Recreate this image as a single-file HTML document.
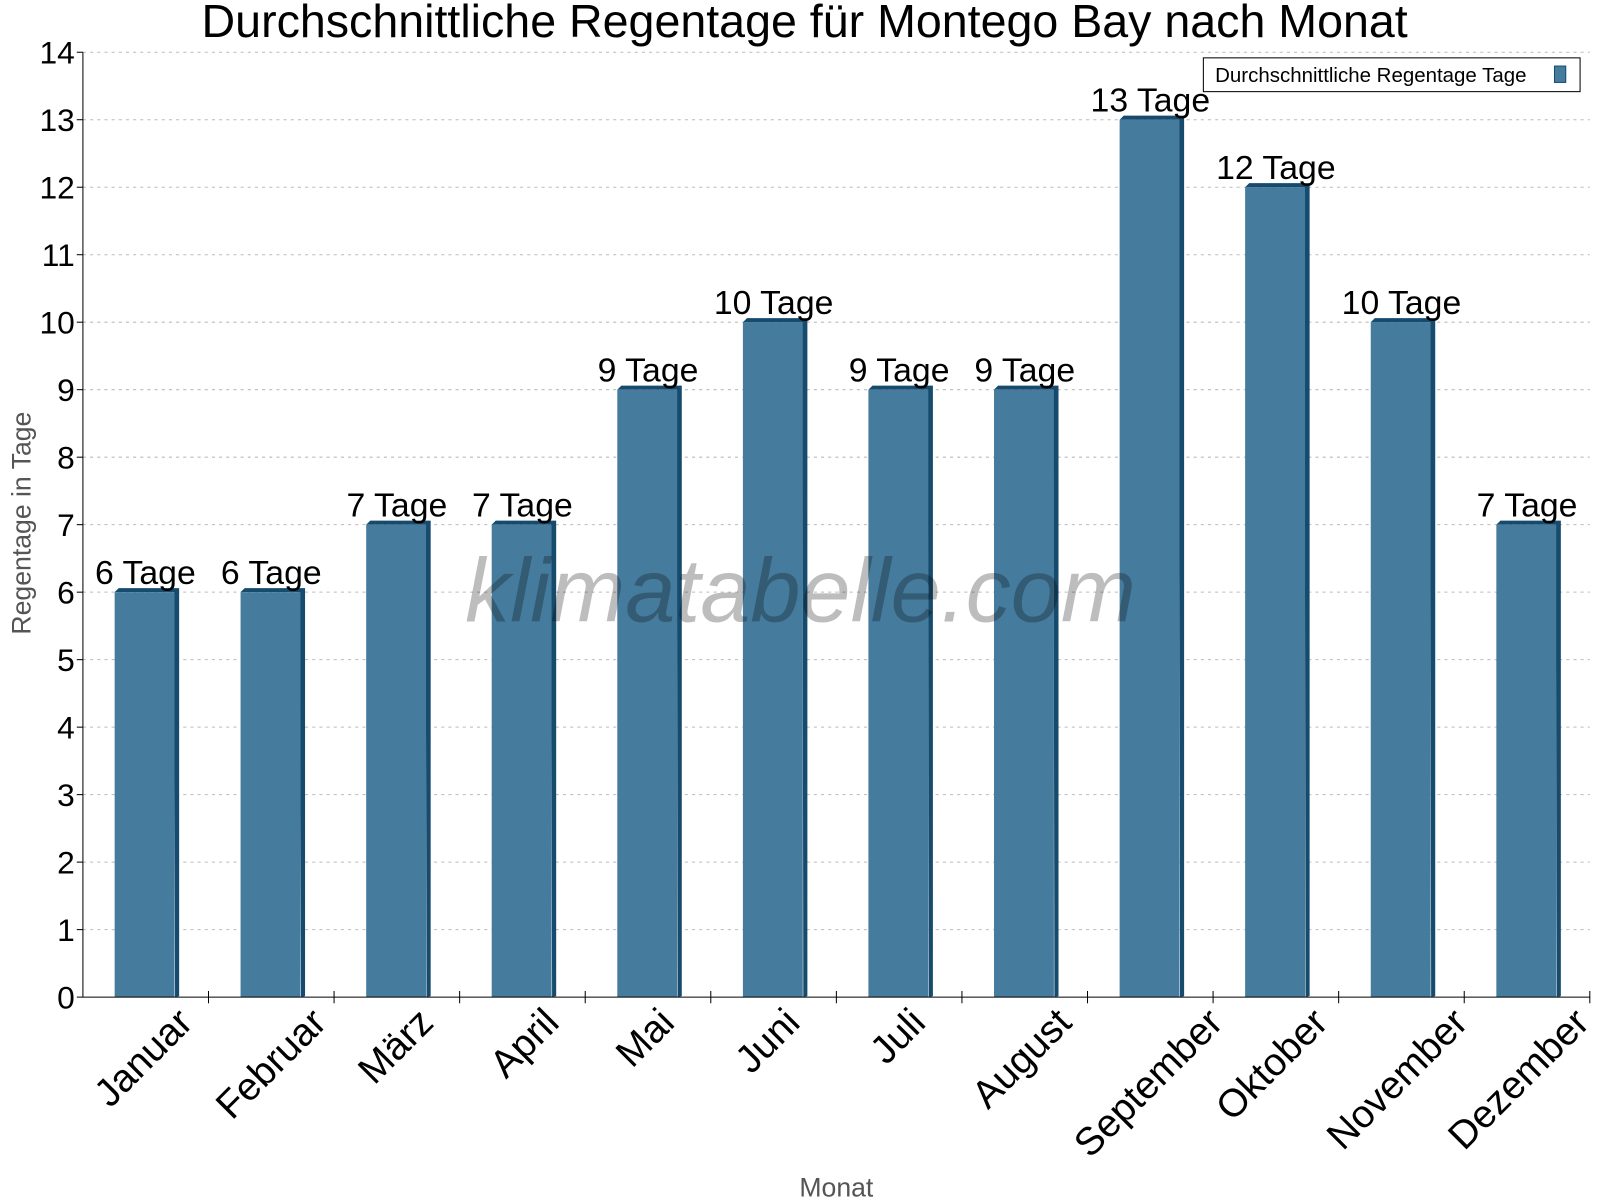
<!DOCTYPE html><html><head><meta charset="utf-8"><style>body{margin:0;background:#fff}svg{display:block;font-family:"Liberation Sans",sans-serif}</style></head><body>
<svg width="1600" height="1200" viewBox="0 0 1600 1200">
<g transform="translate(0,-1) scale(1.0237)">
<text x="786" y="37" font-size="45.5" text-anchor="middle">Durchschnittliche Regentage für Montego Bay nach Monat</text>
<g stroke="#bbb" stroke-dasharray="3,4">
<line x1="81" x2="1553" y1="909.07" y2="909.07"/><line x1="81" x2="1553" y1="843.14" y2="843.14"/><line x1="81" x2="1553" y1="777.21" y2="777.21"/><line x1="81" x2="1553" y1="711.29" y2="711.29"/><line x1="81" x2="1553" y1="645.36" y2="645.36"/><line x1="81" x2="1553" y1="579.43" y2="579.43"/><line x1="81" x2="1553" y1="513.5" y2="513.5"/><line x1="81" x2="1553" y1="447.57" y2="447.57"/><line x1="81" x2="1553" y1="381.64" y2="381.64"/><line x1="81" x2="1553" y1="315.71" y2="315.71"/><line x1="81" x2="1553" y1="249.79" y2="249.79"/><line x1="81" x2="1553" y1="183.86" y2="183.86"/><line x1="81" x2="1553" y1="117.93" y2="117.93"/><line x1="81" x2="1553" y1="52" y2="52"/>
</g>
<g stroke="#000">
<line x1="75" x2="81" y1="975" y2="975"/><line x1="75" x2="81" y1="909.07" y2="909.07"/><line x1="75" x2="81" y1="843.14" y2="843.14"/><line x1="75" x2="81" y1="777.21" y2="777.21"/><line x1="75" x2="81" y1="711.29" y2="711.29"/><line x1="75" x2="81" y1="645.36" y2="645.36"/><line x1="75" x2="81" y1="579.43" y2="579.43"/><line x1="75" x2="81" y1="513.5" y2="513.5"/><line x1="75" x2="81" y1="447.57" y2="447.57"/><line x1="75" x2="81" y1="381.64" y2="381.64"/><line x1="75" x2="81" y1="315.71" y2="315.71"/><line x1="75" x2="81" y1="249.79" y2="249.79"/><line x1="75" x2="81" y1="183.86" y2="183.86"/><line x1="75" x2="81" y1="117.93" y2="117.93"/><line x1="75" x2="81" y1="52" y2="52"/>
<line x1="203.67" x2="203.67" y1="969" y2="981"/><line x1="326.33" x2="326.33" y1="969" y2="981"/><line x1="449" x2="449" y1="969" y2="981"/><line x1="571.67" x2="571.67" y1="969" y2="981"/><line x1="694.33" x2="694.33" y1="969" y2="981"/><line x1="817" x2="817" y1="969" y2="981"/><line x1="939.67" x2="939.67" y1="969" y2="981"/><line x1="1062.33" x2="1062.33" y1="969" y2="981"/><line x1="1185" x2="1185" y1="969" y2="981"/><line x1="1307.67" x2="1307.67" y1="969" y2="981"/><line x1="1430.33" x2="1430.33" y1="969" y2="981"/><line x1="1553" x2="1553" y1="969" y2="981"/>
</g>
<g font-size="31" text-anchor="end">
<text x="73" y="986">0</text><text x="73" y="920.07">1</text><text x="73" y="854.14">2</text><text x="73" y="788.21">3</text><text x="73" y="722.29">4</text><text x="73" y="656.36">5</text><text x="73" y="590.43">6</text><text x="73" y="524.5">7</text><text x="73" y="458.57">8</text><text x="73" y="392.64">9</text><text x="73" y="326.71">10</text><text x="73" y="260.79">11</text><text x="73" y="194.86">12</text><text x="73" y="128.93">13</text><text x="73" y="63">14</text>
</g>
<g>
<g transform="translate(112,579.43)"><polygon points="0,0 4,-4 63,-4 63,394.6 59,395.6 58,0" fill="#174b6d"/><rect width="58.5" height="395.6" fill="#457b9d"/></g>
<g transform="translate(235,579.43)"><polygon points="0,0 4,-4 63,-4 63,394.6 59,395.6 58,0" fill="#174b6d"/><rect width="58.5" height="395.6" fill="#457b9d"/></g>
<g transform="translate(357.7,513.5)"><polygon points="0,0 4,-4 63,-4 63,460.5 59,461.5 58,0" fill="#174b6d"/><rect width="58.5" height="461.5" fill="#457b9d"/></g>
<g transform="translate(480.3,513.5)"><polygon points="0,0 4,-4 63,-4 63,460.5 59,461.5 58,0" fill="#174b6d"/><rect width="58.5" height="461.5" fill="#457b9d"/></g>
<g transform="translate(603,381.64)"><polygon points="0,0 4,-4 63,-4 63,592.4 59,593.4 58,0" fill="#174b6d"/><rect width="58.5" height="593.4" fill="#457b9d"/></g>
<g transform="translate(725.7,315.71)"><polygon points="0,0 4,-4 63,-4 63,658.3 59,659.3 58,0" fill="#174b6d"/><rect width="58.5" height="659.3" fill="#457b9d"/></g>
<g transform="translate(848.3,381.64)"><polygon points="0,0 4,-4 63,-4 63,592.4 59,593.4 58,0" fill="#174b6d"/><rect width="58.5" height="593.4" fill="#457b9d"/></g>
<g transform="translate(971,381.64)"><polygon points="0,0 4,-4 63,-4 63,592.4 59,593.4 58,0" fill="#174b6d"/><rect width="58.5" height="593.4" fill="#457b9d"/></g>
<g transform="translate(1093.7,117.93)"><polygon points="0,0 4,-4 63,-4 63,856.1 59,857.1 58,0" fill="#174b6d"/><rect width="58.5" height="857.1" fill="#457b9d"/></g>
<g transform="translate(1216.3,183.86)"><polygon points="0,0 4,-4 63,-4 63,790.1 59,791.1 58,0" fill="#174b6d"/><rect width="58.5" height="791.1" fill="#457b9d"/></g>
<g transform="translate(1339,315.71)"><polygon points="0,0 4,-4 63,-4 63,658.3 59,659.3 58,0" fill="#174b6d"/><rect width="58.5" height="659.3" fill="#457b9d"/></g>
<g transform="translate(1461.7,513.5)"><polygon points="0,0 4,-4 63,-4 63,460.5 59,461.5 58,0" fill="#174b6d"/><rect width="58.5" height="461.5" fill="#457b9d"/></g>
</g>
<g font-size="33" text-anchor="middle">
<text x="142" y="571.4">6 Tage</text><text x="265" y="571.4">6 Tage</text><text x="387.7" y="505.5">7 Tage</text><text x="510.3" y="505.5">7 Tage</text><text x="633" y="373.6">9 Tage</text><text x="755.7" y="307.7">10 Tage</text><text x="878.3" y="373.6">9 Tage</text><text x="1001" y="373.6">9 Tage</text><text x="1123.7" y="109.9">13 Tage</text><text x="1246.3" y="175.9">12 Tage</text><text x="1369" y="307.7">10 Tage</text><text x="1491.7" y="505.5">7 Tage</text>
</g>
<g font-size="38" text-anchor="end">
<text transform="translate(190,1002) rotate(-45)">Januar</text>
<text transform="translate(320.7,1002) rotate(-45)">Februar</text>
<text transform="translate(425.3,1002) rotate(-45)">März</text>
<text transform="translate(548,1002) rotate(-45)">April</text>
<text transform="translate(660.7,1002) rotate(-45)">Mai</text>
<text transform="translate(783.3,1002) rotate(-45)">Juni</text>
<text transform="translate(906,1002) rotate(-45)">Juli</text>
<text transform="translate(1048.7,1002) rotate(-45)">August</text>
<text transform="translate(1196.3,1002) rotate(-45)">September</text>
<text transform="translate(1299,1002) rotate(-45)">Oktober</text>
<text transform="translate(1435.7,1002) rotate(-45)">November</text>
<text transform="translate(1554.3,1002) rotate(-45)">Dezember</text>
</g>
<line x1="81" y1="52" x2="81" y2="975" stroke="#000"/>
<line x1="81" y1="975" x2="1553" y2="975" stroke="#000"/>
<text x="782" y="608" font-size="88" font-style="italic" fill="#000" fill-opacity="0.26" text-anchor="middle">klimatabelle.com</text>
<text x="30" y="512" font-size="26" fill="#555" text-anchor="middle" transform="rotate(-90 30 512)">Regentage in Tage</text>
<text x="817" y="1170" font-size="26" fill="#555" text-anchor="middle">Monat</text>
<rect x="1175.5" y="57.5" width="368" height="33" fill="#fff" stroke="#000"/>
<text x="1187" y="81" font-size="20">Durchschnittliche Regentage Tage</text>
<rect x="1518.5" y="65.5" width="11" height="16" fill="#457b9d" stroke="#174b6d"/>
</g>
</svg></body></html>
